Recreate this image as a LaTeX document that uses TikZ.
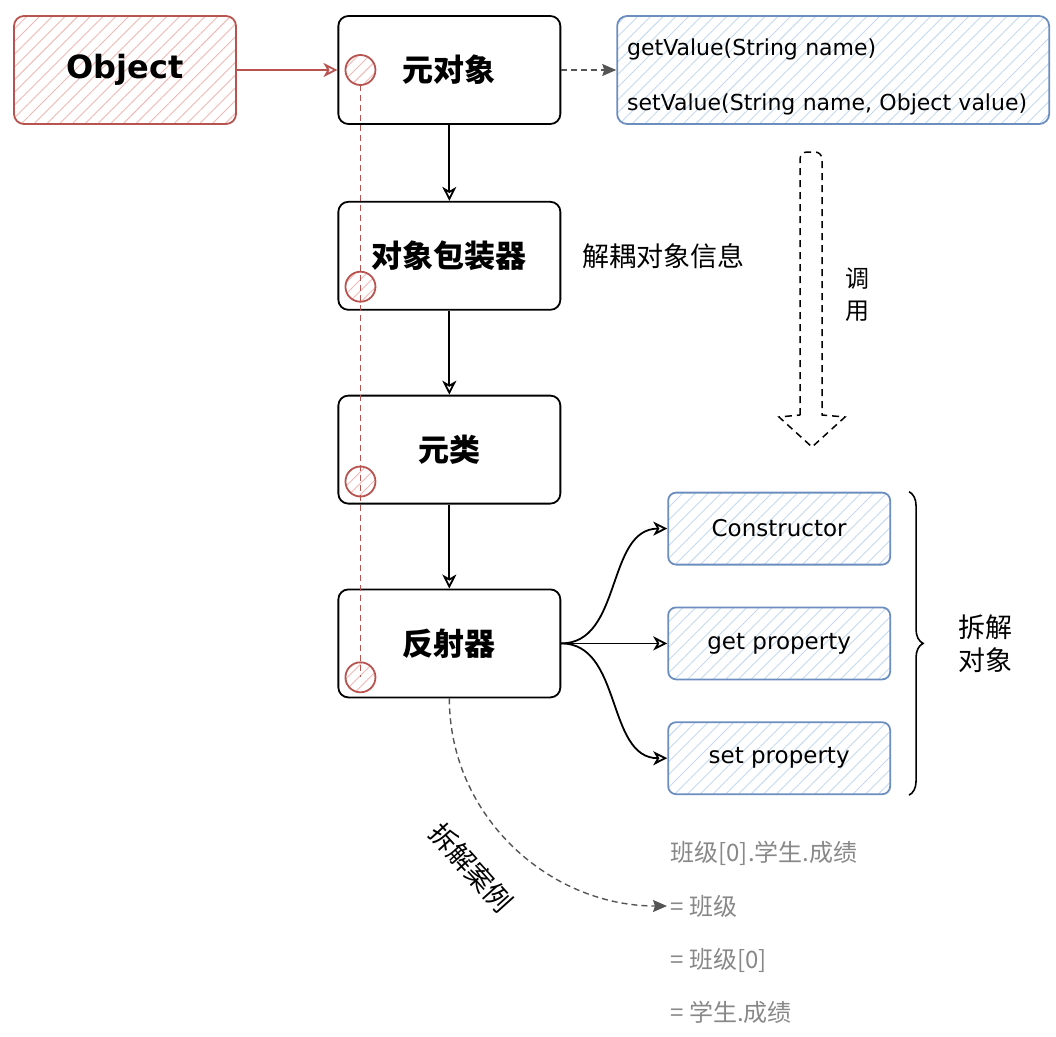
\documentclass[tikz,border=0pt]{standalone}
\usepackage{fontspec}
\setmainfont{DejaVu Sans}
\newfontfamily\cjk{Noto Sans CJK SC}
\usetikzlibrary{arrows.meta,shapes,positioning}
\usetikzlibrary{calc,patterns.meta,decorations.pathreplacing}
\definecolor{redline}{HTML}{B85450}
\definecolor{redfill}{HTML}{F2B8B5}
\definecolor{blueline}{HTML}{6C8EBF}
\definecolor{bluefill}{HTML}{C5D9F2}
\definecolor{hintgray}{HTML}{888888}
\definecolor{linkgray}{HTML}{555555}

\begin{document}
\begin{tikzpicture}[x=1pt, y=-1pt, node distance=84pt]
                \tikzstyle{block} = [rectangle, draw, line width=1.8pt,
                rounded corners=10pt, minimum width=222pt, minimum height=108pt,
                font=\cjk\bfseries\fontsize{31}{36}\selectfont]
                \tikzstyle{objbox} = [block, draw=redline,
                pattern={Lines[angle=45,distance=9pt,line width=0.9pt]}, pattern color=redfill,
                font=\bfseries\fontsize{32}{36}\selectfont]
                \tikzstyle{apibox} = [rectangle, draw=blueline, line width=1.8pt,
                rounded corners=10pt, minimum height=108pt, text width=412pt, inner xsep=10pt,
                align=left,
                pattern={Lines[angle=45,distance=9pt,line width=0.9pt]}, pattern color=bluefill,
                font=\fontsize{22}{55}\selectfont]
                \tikzstyle{partbox} = [rectangle, draw=blueline, line width=1.8pt,
                rounded corners=8pt, minimum width=222pt, minimum height=72pt,
                pattern={Lines[angle=45,distance=9pt,line width=0.9pt]}, pattern color=bluefill,
                font=\fontsize{23}{27}\selectfont]
                \tikzstyle{dot} = [circle, draw=redline, line width=1.8pt, inner sep=0pt,
                minimum size=30pt,
                pattern={Lines[angle=45,distance=8pt,line width=0.9pt]}, pattern color=redfill]
                \tikzstyle{note} = [font=\cjk\fontsize{27}{33}\selectfont]
                \tikzstyle{hint} = [anchor=west, text=hintgray, font=\cjk\fontsize{24}{28}\selectfont]
                \tikzstyle{arrow} = [line width=1.8pt, -{Stealth[open,length=14pt,width=14pt,inset=4pt]}]
                \tikzstyle{redarrow} = [line width=1.8pt, redline, -{Stealth[open,length=14pt,width=14pt,inset=4pt]}]
                \tikzstyle{grayarrow} = [line width=1.4pt, linkgray, dash pattern=on 6pt off 4pt,
                -{Stealth[length=14pt,width=12pt,inset=2pt]}]

                \useasboundingbox (0,0) rectangle (1056,1036);

                % main chain
                \node [objbox] (obj) at (125,70) {Object};
                \node [block, right=101pt of obj] (meta) {元对象};
                \node [block, below=76pt of meta] (wrap) {对象包装器};
                \node [block, below=of wrap] (cls) {元类};
                \node [block, below=of cls] (refl) {反射器};

                \node [apibox, right=55pt of meta] (api) {\vphantom{Ag}\\[-40pt]getValue(String name)\\setValue(String name, Object value)};
                \node [note, anchor=west] (decouple) at ($(wrap.east)+(18,0)$) {解耦对象信息};

                % parts of the reflector
                \node [partbox, right=106pt of refl] (getp) {get property};
                \node [partbox, above=41pt of getp] (cons) {Constructor};
                \node [partbox, below=41pt of getp] (setp) {set property};
                \node [note, align=center] (split) at ($(getp.east)+(94,0)$) {拆解\\对象};

                % example
                \node [hint] (ex0) at (667,853) {班级[0].学生.成绩};
                \node [hint, below=53pt of ex0.west, anchor=west] (ex1) {= 班级};
                \node [hint, below=54pt of ex1.west, anchor=west] (ex2) {= 班级[0]};
                \node [hint, below=52pt of ex2.west, anchor=west] (ex3) {= 学生.成绩};
                \node [note, rotate=-48] (exlabel) at (471,868) {拆解案例};

                % red markers
                \node [dot] (c1) at ($(meta.west)+(23,0)$) {};
                \node [dot] (c2) at ($(wrap.south west)+(23,-24)$) {};
                \node [dot] (c3) at ($(cls.south west)+(23,-23)$) {};
                \node [dot] (c4) at ($(refl.south west)+(23,-21)$) {};
                \draw [redline, line width=1.3pt, dash pattern=on 6pt off 4pt] (c1.south) -- (c4.center);

                \draw [redarrow] (obj) -- (meta);
                \draw [grayarrow] (meta) -- (api);
                \draw [arrow] (meta) -- (wrap);
                \draw [arrow] (wrap) -- (cls);
                \draw [arrow] (cls) -- (refl);
                \draw [arrow] (refl.east) to[out=0, in=180] (cons.west);
                \draw [arrow] (refl.east) -- (getp.west);
                \draw [arrow] (refl.east) to[out=0, in=180] (setp.west);
                \draw [line width=1.6pt, decorate, decoration={brace, amplitude=14pt}]
                ($(cons.north east)+(18,0)$) -- ($(setp.south east)+(18,0)$);
                \draw [grayarrow] (refl.south) to[out=-90, in=180] (ex1.west);

                % call arrow
                \draw [line width=1.5pt, dash pattern=on 7pt off 5pt]
                (800,415) [rounded corners=7pt] -- (800,152) -- (822,152) [sharp corners] -- (822,415)
                -- (845,417) -- (812,447) -- (779,417) -- cycle;
                \node [note, align=center, font=\cjk\fontsize{24}{32}\selectfont] (call) at (857,295) {调\\用};
            \end{tikzpicture}
\end{document}
